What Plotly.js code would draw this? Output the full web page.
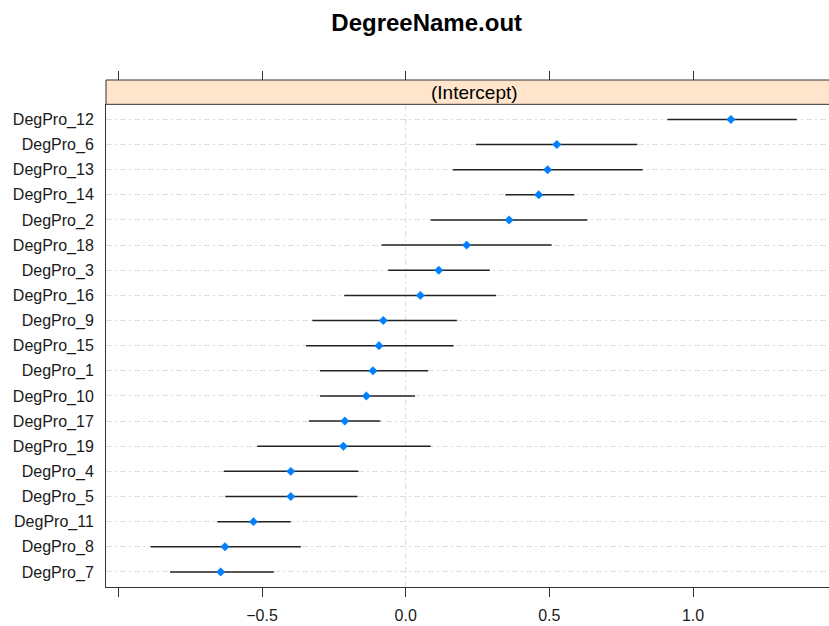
<!DOCTYPE html>
<html>
<head>
<meta charset="utf-8">
<script src="https://cdn.plot.ly/plotly-3.0.1.min.js"></script>
<style>html,body{margin:0;padding:0;overflow:hidden;background:#fff;}</style>
</head>
<body>
<div id="chart" style="width:829px;height:626px;"></div>
<script>
// Levels, top to bottom
const levels = ["DegPro_12","DegPro_6","DegPro_13","DegPro_14","DegPro_2","DegPro_18","DegPro_3","DegPro_16","DegPro_9","DegPro_15","DegPro_1","DegPro_10","DegPro_17","DegPro_19","DegPro_4","DegPro_5","DegPro_11","DegPro_8","DegPro_7"];
// Point estimates (Intercept)
const estimate = [1.132,0.526,0.494,0.463,0.360,0.212,0.115,0.051,-0.078,-0.093,-0.114,-0.137,-0.212,-0.217,-0.400,-0.400,-0.530,-0.629,-0.644];
// Interval bounds
const lower = [0.911,0.245,0.164,0.347,0.087,-0.084,-0.061,-0.214,-0.325,-0.347,-0.298,-0.298,-0.337,-0.517,-0.633,-0.628,-0.656,-0.888,-0.820];
const upper = [1.361,0.806,0.825,0.587,0.632,0.508,0.293,0.315,0.178,0.167,0.078,0.032,-0.088,0.087,-0.165,-0.168,-0.400,-0.365,-0.459];
// Axis ticks
const tickValues = [-1,-0.5,0,0.5,1];
const tickLabels = ["","\u22120.5","0.0","0.5","1.0"];
const panelTitle = "DegreeName.out";
const stripLabel = "(Intercept)";

const FONT = "Liberation Sans, Arial, sans-serif";
const xRange = [-1.0432, 1.4734];
const stripBottom = 0.952;
const gridCol = "#dedede";
const gridDash = "6px,3px,2px,3px";
const axCol = "#333333";

const traces = [
  {
    type: "scatter", mode: "markers",
    x: estimate, y: levels,
    xaxis: "x", yaxis: "y",
    marker: {symbol: "diamond", size: 6.5, color: "#0080ff", line: {width: 0.5, color: "#0080ff"}},
    error_x: {
      type: "data", symmetric: false,
      array: upper.map((u, i) => u - estimate[i]),
      arrayminus: lower.map((l, i) => estimate[i] - l),
      width: 0, thickness: 1.5, color: "#222222"
    },
    hoverinfo: "x+y", showlegend: false, cliponaxis: false
  },
  {
    type: "scatter", mode: "markers",
    x: [estimate[0]], y: [levels[0]],
    xaxis: "x2", yaxis: "y",
    marker: {opacity: 0}, hoverinfo: "skip", showlegend: false
  }
];

const layout = {
  width: 829, height: 626,
  margin: {l: 106, r: 0, t: 80, b: 39, pad: 0},
  paper_bgcolor: "#ffffff", plot_bgcolor: "#ffffff",
  font: {family: FONT, size: 16, color: "#1a1a1a"},
  title: {
    text: panelTitle,
    font: {family: FONT, size: 24, weight: "bold", color: "#000000"},
    xref: "container", x: 0.5147, xanchor: "center",
    yref: "container", y: 0.964, yanchor: "middle"
  },
  showlegend: false,
  xaxis: {
    range: xRange, domain: [0, 1],
    tickmode: "array", tickvals: tickValues, ticktext: tickLabels,
    ticks: "outside", ticklen: 9, tickwidth: 1, tickcolor: axCol,
    showline: true, linecolor: axCol, linewidth: 1,
    showgrid: false, zeroline: false, ticklabelstandoff: 5,
    tickfont: {family: FONT, size: 16, color: "#1a1a1a"},
    anchor: "y"
  },
  xaxis2: {
    range: xRange, overlaying: "x", side: "top",
    anchor: "free", position: 1,
    tickmode: "array", tickvals: tickValues,
    ticks: "outside", ticklen: 9, tickwidth: 1, tickcolor: axCol,
    showticklabels: false, showline: false, showgrid: false, zeroline: false
  },
  yaxis: {
    type: "category", categoryorder: "array", categoryarray: levels,
    range: [levels.length - 1 + 0.6, -0.6],
    domain: [0, stripBottom],
    showgrid: true, gridcolor: gridCol, gridwidth: 1, griddash: gridDash,
    ticks: "", showline: true, linecolor: axCol, linewidth: 1,
    zeroline: false, ticklabelstandoff: 8,
    tickfont: {family: FONT, size: 16, color: "#1a1a1a"}
  },
  shapes: [
    {type: "line", xref: "x", x0: 0, x1: 0, yref: "paper", y0: 0, y1: stripBottom,
     line: {color: gridCol, width: 1, dash: gridDash}, layer: "below"},
    {type: "rect", xref: "paper", x0: 0, x1: 1.01, yref: "paper", y0: stripBottom, y1: 1,
     fillcolor: "#ffe5cc", line: {width: 0}, layer: "above"},
    {type: "line", xref: "paper", x0: 0, x1: 1.01, yref: "paper", y0: 1, y1: 1,
     line: {color: axCol, width: 1}},
    {type: "line", xref: "paper", x0: 0, x1: 1.01, yref: "paper", y0: stripBottom, y1: stripBottom,
     line: {color: axCol, width: 1}},
    {type: "line", xref: "paper", x0: 0, x1: 0, yref: "paper", y0: stripBottom, y1: 1,
     line: {color: axCol, width: 1}}
  ],
  annotations: [
    {text: stripLabel, xref: "paper", x: 0.509, xanchor: "center",
     yref: "paper", y: (stripBottom + 1) / 2, yanchor: "middle",
     showarrow: false, font: {family: FONT, size: 19, color: "#000000"}}
  ]
};

Plotly.newPlot("chart", traces, layout, {displayModeBar: false, staticPlot: true});
</script>
</body>
</html>
